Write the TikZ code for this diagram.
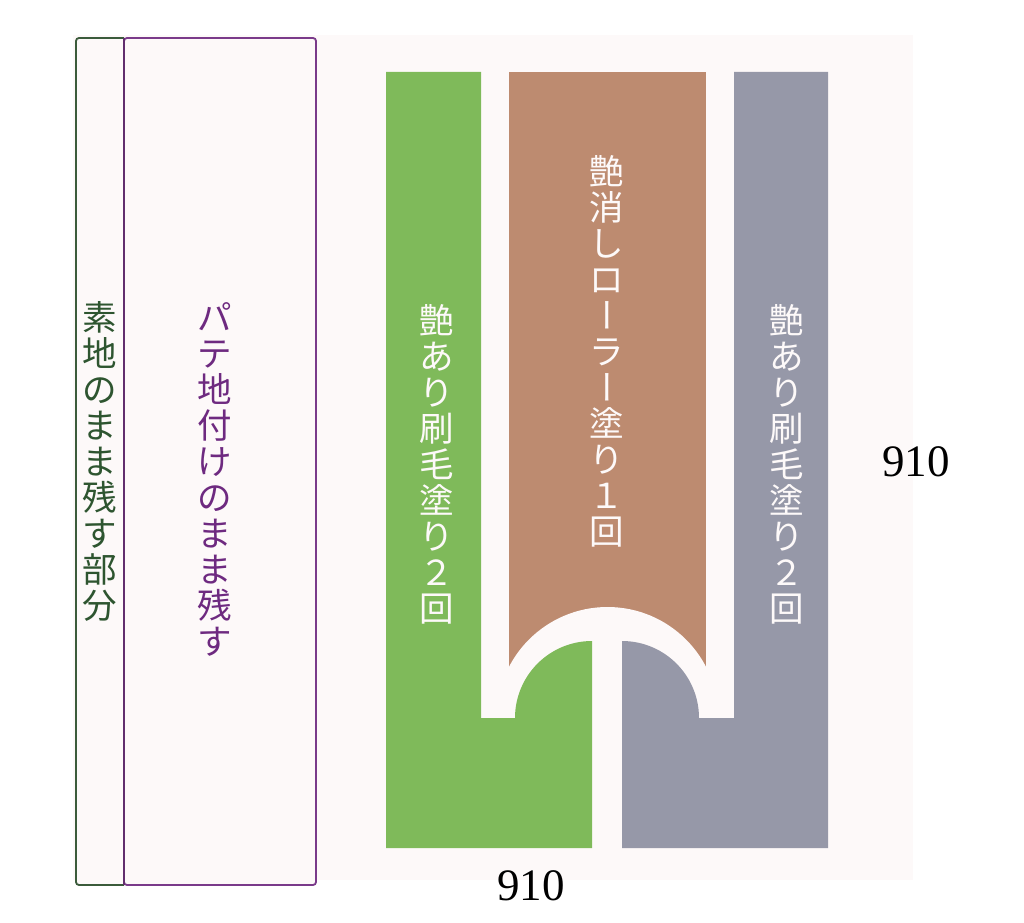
\documentclass[tikz,border=0pt]{standalone}
\usepackage{fontspec}
\usepackage{graphicx}
\setmainfont{Liberation Serif}
\newfontfamily\jpfont{Noto Sans CJK JP}
\definecolor{bgpale}{HTML}{FDF9F9}
\definecolor{paintgreen}{HTML}{7FBA5A}
\definecolor{paintbrown}{HTML}{BD8B70}
\definecolor{paintgray}{HTML}{9698A8}
\definecolor{edgegreen}{HTML}{3B5B3B}
\definecolor{txtgreen}{HTML}{2E5530}
\definecolor{edgepurple}{HTML}{7A3A8A}
\definecolor{txtpurple}{HTML}{6E2A80}
\newcommand\jpchoon{\rotatebox[origin=c]{90}{\raisebox{0pt}[0.88em][0.12em]{ー}}}
\tikzset{
  vtext/.style={font=\jpfont\fontsize{34.5}{36}\selectfont, align=center, inner sep=0pt},
  dimtext/.style={font=\fontsize{45}{50}\selectfont, inner sep=0pt, text=black},
  panel/.style={line width=1.8pt, rounded corners=3pt, fill=bgpale},
}
\begin{document}
\begin{tikzpicture}[x=1pt,y=1pt]
\useasboundingbox[fill=white] (0,0) rectangle (1024,922);
% pale background
\fill[bgpale] (73,42) rectangle (913,887);
% left panels
\draw[panel, draw=edgepurple] (124,37) rectangle (316,884);
\draw[panel, draw=edgegreen, sharp corners] (124,37) -- (79,37) [rounded corners=3pt] -- (76,37) -- (76,884) -- (124,884);
\draw[line width=1.8pt, draw=edgepurple!80!black] (124,37) -- (124,884);
% brown shape with arched cut-out
\fill[paintbrown] (509,204) rectangle (706,850);
\fill[bgpale] (607.5,204) circle[radius=111];
% green shape
\fill[paintgreen] (386,850) -- (481,850) -- (481,204) -- (515,204)
  arc[start angle=180, end angle=90, radius=77] -- (592,74) -- (386,74) -- cycle;
% gray shape
\fill[paintgray] (828,850) -- (734,850) -- (734,204) -- (699,204)
  arc[start angle=0, end angle=90, radius=77] -- (622,74) -- (828,74) -- cycle;
% texts
\node[vtext, text=txtgreen] (tbare) at (100,461) {素\\地\\の\\ま\\ま\\残\\す\\部\\分};
\node[vtext, text=txtpurple] (tpate) at (215,443) {パ\\テ\\地\\付\\け\\の\\ま\\ま\\残\\す};
\node[vtext, text=bgpale] (tgreen) at (437,458) {艶\\あ\\り\\刷\\毛\\塗\\り\\２\\回};
\node[vtext, text=bgpale] (tbrown) at (607,571) {艶\\消\\し\\ロ\\\jpchoon\\ラ\\\jpchoon\\塗\\り\\１\\回};
\node[vtext, text=bgpale] (tgray) at (787,458) {艶\\あ\\り\\刷\\毛\\塗\\り\\２\\回};
\node[dimtext] (dimh) at (916,460) {910};
\node[dimtext] (dimw) at (531,36) {910};
\end{tikzpicture}
\end{document}
